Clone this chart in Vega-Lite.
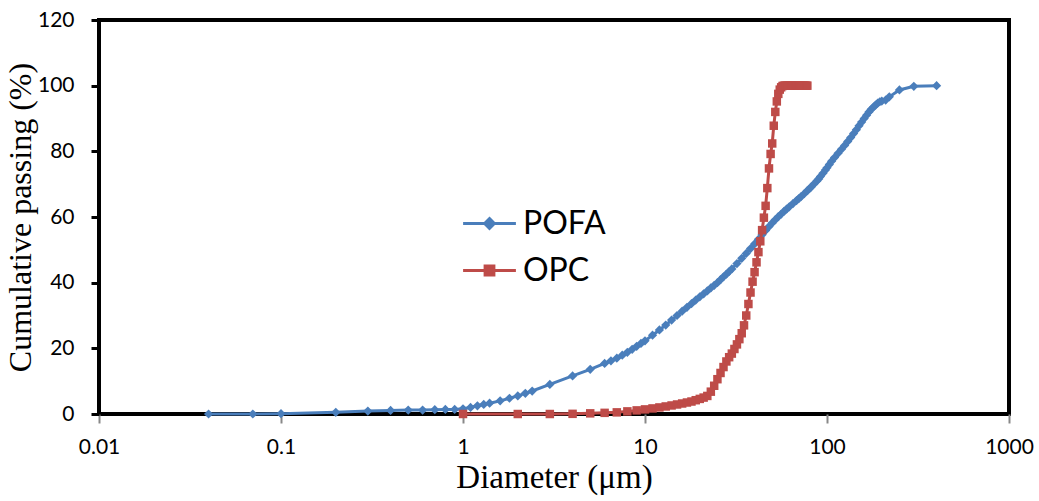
{
  "$schema": "https://vega.github.io/schema/vega-lite/v6.json",
  "autosize": {"type": "none"},
  "padding": {"left": 99, "top": 20, "right": 30, "bottom": 87},
  "width": 910,
  "height": 394,
  "background": "white",
  "config": {
    "view": {"stroke": "black", "strokeWidth": 4},
    "axis": {"labelFont": "Lato", "labelFontSize": 21, "labelColor": "black", "titleFont": "Liberation Serif", "titleFontWeight": "normal", "titleColor": "black", "grid": false}
  },
  "datasets": {
    "pofa": [
      {"s":"POFA","d":0.04,"p":0},{"s":"POFA","d":0.07,"p":0},{"s":"POFA","d":0.1,"p":0.1},{"s":"POFA","d":0.2,"p":0.5},{"s":"POFA","d":0.3,"p":0.9},{"s":"POFA","d":0.4,"p":1.1},{"s":"POFA","d":0.5,"p":1.2},{"s":"POFA","d":0.6,"p":1.2},{"s":"POFA","d":0.7,"p":1.3},{"s":"POFA","d":0.8,"p":1.4},{"s":"POFA","d":0.9,"p":1.4},
      {"s":"POFA","d":1,"p":1.6},{"s":"POFA","d":1.1,"p":2.0},{"s":"POFA","d":1.2,"p":2.5},{"s":"POFA","d":1.3,"p":2.9},{"s":"POFA","d":1.4,"p":3.3},{"s":"POFA","d":1.6,"p":4.0},{"s":"POFA","d":1.8,"p":4.8},{"s":"POFA","d":2,"p":5.5},{"s":"POFA","d":2.2,"p":6.3},{"s":"POFA","d":2.4,"p":7.0},{"s":"POFA","d":3,"p":9.0},{"s":"POFA","d":4,"p":11.6},{"s":"POFA","d":5,"p":13.6},{"s":"POFA","d":6,"p":15.4},{"s":"POFA","d":6.5,"p":16.2},{"s":"POFA","d":7,"p":17.0},{"s":"POFA","d":7.5,"p":17.9},{"s":"POFA","d":8,"p":18.8},{"s":"POFA","d":8.5,"p":19.7},{"s":"POFA","d":9,"p":20.6},{"s":"POFA","d":9.5,"p":21.5},
      {"s":"POFA","d":10,"p":22.3},{"s":"POFA","d":11,"p":24.0},{"s":"POFA","d":12,"p":25.6},{"s":"POFA","d":13,"p":27.1},{"s":"POFA","d":14,"p":28.6},{"s":"POFA","d":15,"p":30.0},{"s":"POFA","d":16,"p":31.3},{"s":"POFA","d":17,"p":32.5},{"s":"POFA","d":18,"p":33.6},{"s":"POFA","d":19,"p":34.7},{"s":"POFA","d":20,"p":35.7},{"s":"POFA","d":21,"p":36.6},{"s":"POFA","d":22,"p":37.5},{"s":"POFA","d":23,"p":38.4},{"s":"POFA","d":24,"p":39.2},{"s":"POFA","d":25,"p":40.0},{"s":"POFA","d":26,"p":40.9},{"s":"POFA","d":27,"p":41.8},{"s":"POFA","d":28,"p":42.6},{"s":"POFA","d":29,"p":43.4},{"s":"POFA","d":30,"p":44.2},
      {"s":"POFA","d":32,"p":45.8},{"s":"POFA","d":34,"p":47.4},{"s":"POFA","d":36,"p":48.9},{"s":"POFA","d":38,"p":50.4},{"s":"POFA","d":40,"p":51.8},{"s":"POFA","d":42,"p":53.2},{"s":"POFA","d":44,"p":54.6},{"s":"POFA","d":46,"p":55.9},{"s":"POFA","d":48,"p":57.1},{"s":"POFA","d":50,"p":58.2},{"s":"POFA","d":52,"p":59.2},{"s":"POFA","d":54,"p":60.1},{"s":"POFA","d":56,"p":60.9},{"s":"POFA","d":58,"p":61.7},{"s":"POFA","d":60,"p":62.4},{"s":"POFA","d":62,"p":63.1},{"s":"POFA","d":65,"p":64.1},{"s":"POFA","d":68,"p":65.0},{"s":"POFA","d":70,"p":65.6},{"s":"POFA","d":72,"p":66.2},{"s":"POFA","d":75,"p":67.1},{"s":"POFA","d":78,"p":68.0},{"s":"POFA","d":80,"p":68.6},{"s":"POFA","d":82,"p":69.2},{"s":"POFA","d":85,"p":70.1},{"s":"POFA","d":88,"p":71.0},{"s":"POFA","d":90,"p":71.6},{"s":"POFA","d":92,"p":72.3},{"s":"POFA","d":95,"p":73.3},{"s":"POFA","d":98,"p":74.3},
      {"s":"POFA","d":100,"p":75.0},{"s":"POFA","d":103,"p":76.0},{"s":"POFA","d":106,"p":77.0},{"s":"POFA","d":110,"p":78.1},{"s":"POFA","d":115,"p":79.4},{"s":"POFA","d":120,"p":80.6},{"s":"POFA","d":125,"p":81.8},{"s":"POFA","d":130,"p":83.0},{"s":"POFA","d":135,"p":84.2},{"s":"POFA","d":140,"p":85.4},{"s":"POFA","d":145,"p":86.6},{"s":"POFA","d":150,"p":87.8},{"s":"POFA","d":155,"p":88.9},{"s":"POFA","d":160,"p":90.0},{"s":"POFA","d":165,"p":91.0},{"s":"POFA","d":170,"p":92.0},{"s":"POFA","d":175,"p":92.8},{"s":"POFA","d":180,"p":93.5},{"s":"POFA","d":185,"p":94.1},{"s":"POFA","d":190,"p":94.7},{"s":"POFA","d":195,"p":95.1},{"s":"POFA","d":200,"p":95.3},{"s":"POFA","d":210,"p":95.6},{"s":"POFA","d":220,"p":96.6},{"s":"POFA","d":250,"p":98.7},{"s":"POFA","d":300,"p":99.8},{"s":"POFA","d":400,"p":100}
    ],
    "opc": [
      {"s":"OPC","d":1,"p":0},{"s":"OPC","d":2,"p":0},{"s":"OPC","d":3,"p":0},{"s":"OPC","d":4,"p":0.05},{"s":"OPC","d":5,"p":0.2},{"s":"OPC","d":6,"p":0.35},{"s":"OPC","d":7,"p":0.5},{"s":"OPC","d":8,"p":0.8},{"s":"OPC","d":9,"p":1.1},{"s":"OPC","d":10,"p":1.4},
      {"s":"OPC","d":11,"p":1.7},{"s":"OPC","d":12,"p":2.0},{"s":"OPC","d":13,"p":2.3},{"s":"OPC","d":14,"p":2.6},{"s":"OPC","d":15,"p":2.9},{"s":"OPC","d":16,"p":3.2},{"s":"OPC","d":17,"p":3.5},{"s":"OPC","d":18,"p":3.8},{"s":"OPC","d":19,"p":4.2},{"s":"OPC","d":20,"p":4.6},
      {"s":"OPC","d":21,"p":5.0},{"s":"OPC","d":22,"p":5.5},{"s":"OPC","d":23,"p":6.8},{"s":"OPC","d":24,"p":8.6},{"s":"OPC","d":25,"p":10.6},{"s":"OPC","d":26,"p":12.5},{"s":"OPC","d":27,"p":14.3},{"s":"OPC","d":28,"p":16.0},{"s":"OPC","d":29,"p":17.3},{"s":"OPC","d":30,"p":18.4},
      {"s":"OPC","d":31,"p":19.8},{"s":"OPC","d":32,"p":21.2},{"s":"OPC","d":33,"p":22.8},{"s":"OPC","d":34,"p":24.6},{"s":"OPC","d":35,"p":27.0},{"s":"OPC","d":36,"p":30.0},{"s":"OPC","d":37,"p":33.5},{"s":"OPC","d":38,"p":37.0},{"s":"OPC","d":39,"p":40.3},{"s":"OPC","d":40,"p":43.2},
      {"s":"OPC","d":41,"p":46.2},{"s":"OPC","d":42,"p":49.3},{"s":"OPC","d":43,"p":52.6},{"s":"OPC","d":44,"p":56.0},{"s":"OPC","d":45,"p":59.8},{"s":"OPC","d":46,"p":63.4},{"s":"OPC","d":47,"p":68.8},{"s":"OPC","d":48,"p":74.8},{"s":"OPC","d":49,"p":79.2},{"s":"OPC","d":50,"p":82.4},
      {"s":"OPC","d":51,"p":87.8},{"s":"OPC","d":52,"p":92.0},{"s":"OPC","d":53,"p":95.2},{"s":"OPC","d":54,"p":97.5},{"s":"OPC","d":55,"p":98.8},{"s":"OPC","d":56,"p":99.5},{"s":"OPC","d":57,"p":99.9},{"s":"OPC","d":58,"p":100},{"s":"OPC","d":59,"p":100},{"s":"OPC","d":60,"p":100},
      {"s":"OPC","d":61,"p":100},{"s":"OPC","d":62,"p":100},{"s":"OPC","d":63,"p":100},{"s":"OPC","d":64,"p":100},{"s":"OPC","d":65,"p":100},{"s":"OPC","d":66,"p":100},{"s":"OPC","d":67,"p":100},{"s":"OPC","d":68,"p":100},{"s":"OPC","d":69,"p":100},{"s":"OPC","d":70,"p":100},
      {"s":"OPC","d":71,"p":100},{"s":"OPC","d":72,"p":100},{"s":"OPC","d":73,"p":100},{"s":"OPC","d":74,"p":100},{"s":"OPC","d":75,"p":100},{"s":"OPC","d":76,"p":100},{"s":"OPC","d":77,"p":100},{"s":"OPC","d":78,"p":100}
    ]
  },
  "encoding": {
    "x": {
      "field": "d", "type": "quantitative",
      "scale": {"type": "log", "domain": [0.01, 1000], "nice": false},
      "axis": {"values": [0.01, 0.1, 1, 10, 100, 1000], "format": "~g", "title": "Diameter (μm)", "titleFontSize": 33, "titlePadding": 4, "domain": false, "tickColor": "#888888", "tickWidth": 2, "tickSize": 9, "labelPadding": 13, "labelFlush": false}
    },
    "y": {
      "field": "p", "type": "quantitative",
      "scale": {"domain": [0, 120], "nice": false},
      "axis": {"values": [0, 20, 40, 60, 80, 100, 120], "title": "Cumulative passing (%)", "titleFontSize": 32, "titlePadding": 0, "domain": false, "tickColor": "black", "tickWidth": 3, "tickSize": 8, "labelPadding": 17}
    }
  },
  "layer": [
    {
      "data": {"name": "pofa"},
      "mark": {"type": "line", "strokeWidth": 3},
      "encoding": {
        "color": {
          "field": "s", "type": "nominal",
          "scale": {"domain": ["POFA", "OPC"], "range": ["#4A7EBB", "#BE4B48"]},
          "legend": {
            "orient": "none", "legendX": 367, "legendY": 180, "title": null, "padding": 0,
            "labelFont": "Lato", "labelFontSize": 32, "labelColor": "black", "labelOffset": 10,
            "symbolSize": 1936, "symbolOffset": 0, "rowPadding": 7, "symbolStrokeWidth": 3,
            "encode": {
              "symbols": {
                "update": {
                  "shape": {"signal": "datum.value === 'POFA' ? 'M-1.2,0H1.2M0,-0.22L0.22,0L0,0.22L-0.22,0Z' : 'M-1.2,0H1.2M-0.2,-0.2H0.2V0.2H-0.2Z'"},
                  "fill": {"signal": "datum.value === 'POFA' ? '#4A7EBB' : '#BE4B48'"},
                  "stroke": {"signal": "datum.value === 'POFA' ? '#4A7EBB' : '#BE4B48'"},
                  "strokeWidth": {"value": 3},
                  "opacity": {"value": 1}
                }
              }
            }
          }
        }
      }
    },
    {
      "data": {"name": "pofa"},
      "mark": {"type": "point", "shape": "diamond", "filled": true, "size": 85, "color": "#4A7EBB", "opacity": 1}
    },
    {
      "data": {"name": "opc"},
      "mark": {"type": "line", "strokeWidth": 3},
      "encoding": {
        "color": {"field": "s", "type": "nominal"}
      }
    },
    {
      "data": {"name": "opc"},
      "mark": {"type": "point", "shape": "square", "filled": true, "size": 72, "color": "#BE4B48", "opacity": 1}
    }
  ]
}
